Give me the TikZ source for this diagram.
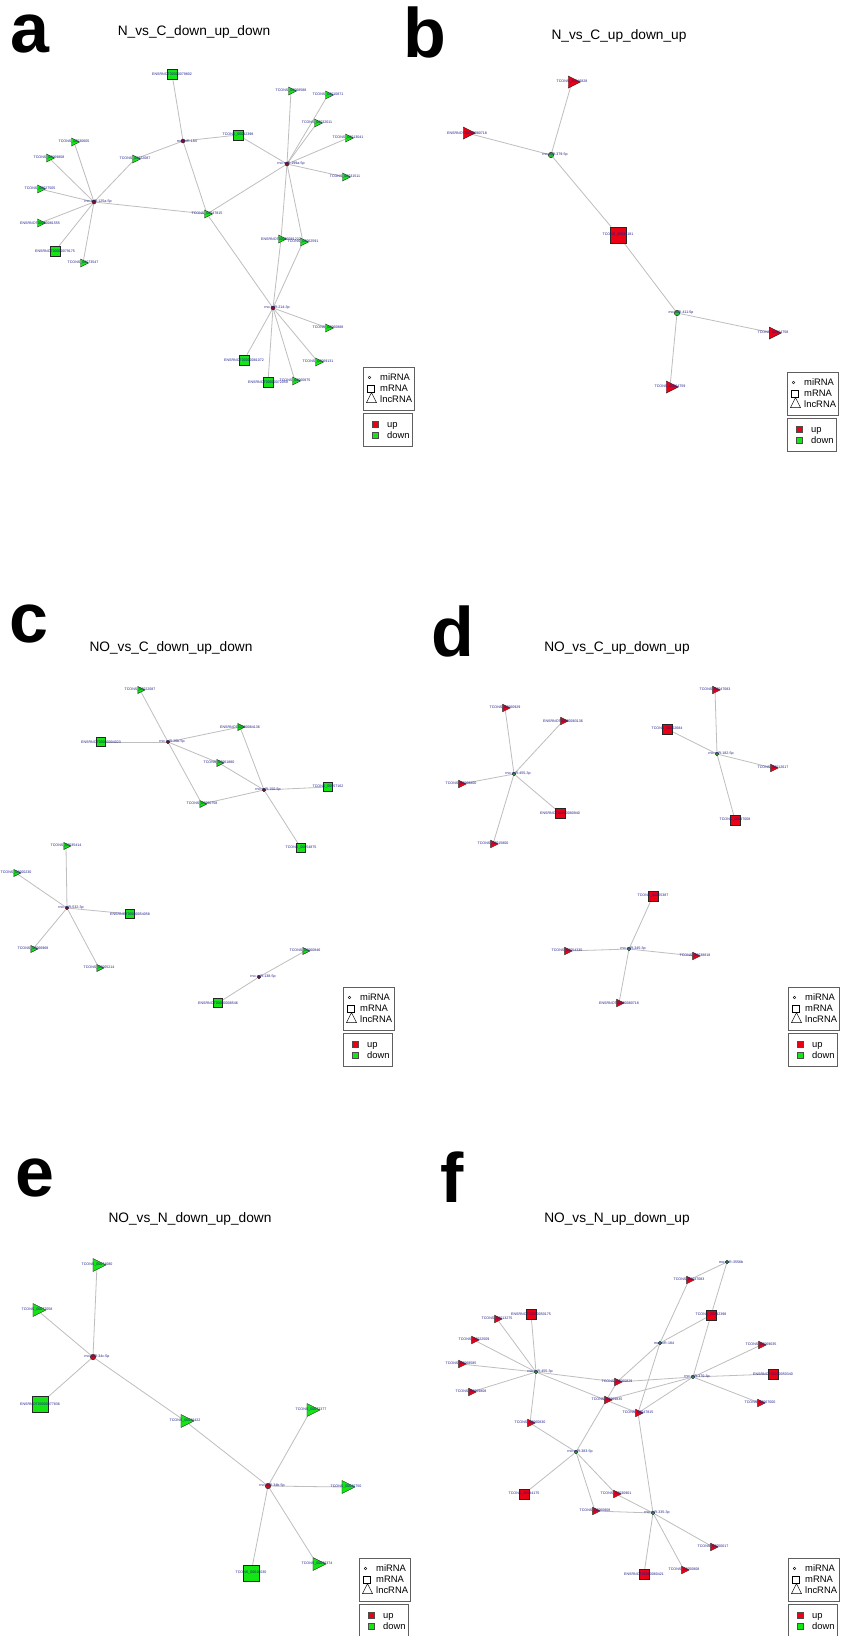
\documentclass[tikz,border=0pt]{standalone}
\usepackage{fontspec}
\setmainfont{Liberation Sans}
\usetikzlibrary{shapes.geometric,backgrounds}
\definecolor{upred}{RGB}{235,0,20}
\definecolor{dngreen}{RGB}{20,230,20}
\definecolor{mired}{RGB}{140,10,50}
\definecolor{mired2}{RGB}{205,10,20}
\definecolor{migreen}{RGB}{40,190,50}
\definecolor{edgegray}{RGB}{190,190,190}
\definecolor{lblblue}{RGB}{30,30,140}
\definecolor{boxgray}{RGB}{95,95,95}
\newcommand\lblfont{\fontsize{3.6}{3.6}\selectfont}
\newcommand\TRI[5]{\node[lncs=#4,fill=#3,label={[lbl]center:#5}] (#1) at (#2) {};}
\newcommand\SQR[5]{\node[mrs=#4,fill=#3,label={[lbl]center:#5}] (#1) at (#2) {};}
\newcommand\MIR[5]{\node[mis=#4,fill=#3,label={[lbl,xshift=4pt]center:#5}] (#1) at (#2) {};}
\newcommand\LEG[3]{%
 \node[legbox, minimum width=51, minimum height=43, anchor=north west] (#1bA) at (#2,#3) {};
 \node[legbox, minimum width=49, minimum height=33.5, anchor=north west] (#1bB) at (#2,#3+45.5) {};
 \node[legdot] (#1d) at (#2+6.5,#3+10.5) {};
 \node[legsq] (#1s) at (#2+7.5,#3+21.5) {};
 \node[legtri] (#1t) at (#2+8.5,#3+32.5) {};
 \node[legtxt] (#1xa) at (#2+17,#3+10.5) {miRNA};
 \node[legtxt] (#1xb) at (#2+17,#3+21.5) {mRNA};
 \node[legtxt] (#1xc) at (#2+17,#3+32.5) {lncRNA};
 \node[legfill, fill=upred] (#1u) at (#2+12,#3+57) {};
 \node[legfill, fill=dngreen] (#1g) at (#2+12,#3+68.5) {};
 \node[legtxt] (#1xd) at (#2+24,#3+57) {up};
 \node[legtxt] (#1xe) at (#2+24,#3+68.5) {down};
}
\begin{document}
\begin{tikzpicture}[x=1pt,y=-1pt,
 lncs/.style={isosceles triangle, isosceles triangle stretches, draw=black!85, line width=0.4pt, inner sep=0pt, minimum width=#1, minimum height=#1},
 mrs/.style={rectangle, draw=black!85, line width=0.5pt, inner sep=0pt, minimum size=#1},
 mis/.style={circle, draw=black!85, line width=0.4pt, inner sep=0pt, minimum size=#1},
 lbl/.style={font=\lblfont, text=lblblue, inner sep=0pt},
 edge/.style={draw=edgegray, line width=0.8pt},
 letter/.style={font=\fontsize{70}{70}\selectfont\bfseries, anchor=base west, inner sep=0pt, text height=50pt, text depth=0pt},
 ttl/.style={font=\fontsize{13.7}{14}\selectfont, anchor=base, inner sep=0pt},
 legbox/.style={draw=boxgray, line width=0.9pt, inner sep=0pt, rectangle},
 legdot/.style={circle, draw=black, line width=0.4pt, minimum size=2.6, inner sep=0pt},
 legsq/.style={rectangle, draw=black, line width=0.5pt, minimum size=7, inner sep=0pt},
 legtri/.style={isosceles triangle, isosceles triangle stretches, shape border rotate=90, draw=black, line width=0.5pt, minimum width=10, minimum height=10, inner sep=0pt},
 legfill/.style={rectangle, draw=black!70, line width=0.4pt, minimum size=6, inner sep=0pt},
 legtxt/.style={font=\fontsize{9.4}{10}\selectfont, anchor=west, inner sep=0pt, text height=6.8pt, text depth=0pt}
]
\useasboundingbox (0,0) rectangle (846,1636);

% panel letters
\node[letter] (La) at (10.5,52) {a};
\node[letter] (Lb) at (403,57) {b};
\node[letter] (Lc) at (9,642) {c};
\node[letter] (Ld) at (431,656) {d};
\node[letter] (Le) at (15,1196) {e};
\node[letter] (Lf) at (440,1202) {f};

% titles
\node[ttl] (Ta) at (194,35) {N\_vs\_C\_down\_up\_down};
\node[ttl] (Tb) at (619,39.5) {N\_vs\_C\_up\_down\_up};
\node[ttl] (Tc) at (171,651) {NO\_vs\_C\_down\_up\_down};
\node[ttl] (Td) at (617,651) {NO\_vs\_C\_up\_down\_up};
\node[ttl] (Te) at (190,1222) {NO\_vs\_N\_down\_up\_down};
\node[ttl] (Tf) at (617,1222) {NO\_vs\_N\_up\_down\_up};

% ---------- panel a ----------
\SQR{A1}{172,74}{dngreen}{10}{ENSRNOT00000079802}
\SQR{A2}{238,135}{dngreen}{10}{TCONS\_00042398}
\TRI{A3}{291,91}{dngreen}{8}{TCONS\_00068588}
\TRI{A4}{328,95}{dngreen}{8}{TCONS\_00010871}
\TRI{A5}{317,123}{dngreen}{8}{TCONS\_00032011}
\TRI{A6}{348,138}{dngreen}{8}{TCONS\_00013041}
\TRI{A7}{345,177}{dngreen}{8}{TCONS\_00031511}
\TRI{A8}{281,239}{dngreen}{8}{ENSRNOT00000081222}
\TRI{A9}{303,242}{dngreen}{8}{TCONS\_00062591}
\TRI{A10}{74,142}{dngreen}{8}{TCONS\_00030605}
\TRI{A11}{49,158}{dngreen}{8}{TCONS\_00069808}
\TRI{A12}{135,159}{dngreen}{8}{TCONS\_00022087}
\TRI{A13}{40,189}{dngreen}{8}{TCONS\_00027505}
\TRI{A14}{40,223}{dngreen}{8}{ENSRNOT00000081555}
\SQR{A15}{55,251}{dngreen}{10}{ENSRNOT00000079175}
\TRI{A16}{83,263}{dngreen}{8}{TCONS\_00073547}
\TRI{A17}{207,214}{dngreen}{8}{TCONS\_00047815}
\TRI{A18}{328,328}{dngreen}{8}{TCONS\_00060888}
\SQR{A19}{244,360}{dngreen}{10}{ENSRNOT00000081072}
\TRI{A20}{318,362}{dngreen}{8}{TCONS\_00069131}
\SQR{A21}{268,382}{dngreen}{10}{ENSRNOT00000072059}
\TRI{A22}{295,381}{dngreen}{8}{TCONS\_00060875}
\MIR{Ah1}{183,141}{mired}{4}{rno-miR-184}
\MIR{Ah2}{287,164}{mired}{4}{rno-miR-199a-5p}
\MIR{Ah3}{94,202}{mired}{4}{rno-miR-125a-5p}
\MIR{Ah4}{273,308}{mired}{4}{rno-miR-214-3p}
\LEG{lga}{363}{367}

% ---------- panel b ----------
\TRI{B1}{572,82}{upred}{12}{TCONS\_00046828}
\TRI{B2}{467,133}{upred}{12}{ENSRNOT00000080718}
\SQR{B3}{618,235}{upred}{16}{TCONS\_00044181}
\TRI{B4}{773,333}{upred}{12}{TCONS\_00064758}
\TRI{B5}{670,387}{upred}{12}{TCONS\_00064759}
\MIR{Bh1}{551,155}{migreen}{5.5}{rno-miR-379-5p}
\MIR{Bh2}{677,313}{migreen}{5.5}{rno-miR-411-5p}
\LEG{lgb}{787}{372}

% ---------- panel c ----------
\TRI{C1}{140,690}{dngreen}{7}{TCONS\_00022087}
\TRI{C2}{240,727}{dngreen}{7}{ENSRNOT00000084136}
\SQR{C3}{101,742}{dngreen}{9}{ENSRNOT00000004023}
\TRI{C4}{219,763}{dngreen}{7}{TCONS\_00061880}
\SQR{C5}{328,787}{dngreen}{9}{TCONS\_00057162}
\TRI{C6}{202,804}{dngreen}{7}{TCONS\_00060758}
\SQR{C7}{301,848}{dngreen}{9}{TCONS\_00054875}
\TRI{C8}{66,846}{dngreen}{7}{TCONS\_00035414}
\TRI{C9}{16,873}{dngreen}{7}{TCONS\_00000230}
\SQR{C10}{130,914}{dngreen}{9}{ENSRNOT00000054058}
\TRI{C11}{33,949}{dngreen}{7}{TCONS\_00066968}
\TRI{C12}{99,968}{dngreen}{7}{TCONS\_00005214}
\TRI{C13}{305,951}{dngreen}{7}{TCONS\_00060846}
\SQR{C14}{218,1003}{dngreen}{9}{ENSRNOT00000008546}
\MIR{Ch1}{168,742}{mired}{3.5}{rno-miR-26b-5p}
\MIR{Ch2}{264,790}{mired}{3.5}{rno-miR-150-5p}
\MIR{Ch3}{67,908}{mired}{3.5}{rno-miR-532-3p}
\MIR{Ch4}{259,977}{mired}{3.5}{rno-miR-138-5p}
\LEG{lgc}{343}{987}

% ---------- panel d ----------
\TRI{D1}{505,708}{upred}{7.5}{TCONS\_00060929}
\TRI{D2}{563,721}{upred}{7.5}{ENSRNOT00000083136}
\TRI{D3}{461,784}{upred}{7.5}{TCONS\_00068800}
\SQR{D4}{560,813}{upred}{10}{ENSRNOT00000080940}
\TRI{D5}{493,844}{upred}{7.5}{TCONS\_00015800}
\TRI{D6}{715,690}{upred}{7.5}{TCONS\_00047083}
\SQR{D7}{667,729}{upred}{10}{TCONS\_00052684}
\TRI{D8}{773,768}{upred}{7.5}{TCONS\_00012617}
\SQR{D9}{735,820}{upred}{10}{TCONS\_00047008}
\SQR{D10}{653,896}{upred}{10}{TCONS\_00055387}
\TRI{D11}{567,951}{upred}{7.5}{TCONS\_00054335}
\TRI{D12}{695,956}{upred}{7.5}{TCONS\_00038818}
\TRI{D13}{619,1003}{upred}{7.5}{ENSRNOT00000080718}
\MIR{Dh1}{514,774}{migreen}{3.5}{rno-miR-455-3p}
\MIR{Dh2}{717,754}{migreen}{3.5}{rno-miR-182-5p}
\MIR{Dh3}{629,949}{migreen}{3.5}{rno-miR-345-3p}
\LEG{lgd}{788}{987}

% ---------- panel e ----------
\TRI{E1}{97,1265}{dngreen}{13}{TCONS\_00074080}
\TRI{E2}{37,1310}{dngreen}{13}{TCONS\_00077058}
\SQR{E3}{40,1404}{dngreen}{16}{ENSRNOT00000077836}
\TRI{E4}{185,1421}{dngreen}{13}{TCONS\_00036422}
\TRI{E5}{311,1410}{dngreen}{13}{TCONS\_00072377}
\TRI{E6}{346,1487}{dngreen}{13}{TCONS\_00036750}
\SQR{E7}{251,1573}{dngreen}{16}{TCONS\_00016030}
\TRI{E8}{317,1564}{dngreen}{13}{TCONS\_00036374}
\MIR{Eh1}{93,1357}{mired2}{5.5}{rno-miR-34c-5p}
\MIR{Eh2}{268,1486}{mired2}{5.5}{rno-miR-34b-5p}
\LEG{lge}{359}{1558}

% ---------- panel f ----------
\TRI{F1}{689,1280}{upred}{7.5}{TCONS\_00047083}
\SQR{F2}{531,1314}{upred}{10}{ENSRNOT00000050175}
\TRI{F3}{497,1319}{upred}{7.5}{TCONS\_00013275}
\SQR{F4}{711,1315}{upred}{10}{TCONS\_00042398}
\TRI{F5}{474,1340}{upred}{7.5}{TCONS\_00022509}
\TRI{F6}{761,1345}{upred}{7.5}{TCONS\_00069035}
\TRI{F7}{461,1364}{upred}{7.5}{TCONS\_00068585}
\SQR{F8}{773,1374}{upred}{10}{ENSRNOT00000050340}
\TRI{F9}{617,1382}{upred}{7.5}{TCONS\_00060829}
\TRI{F10}{471,1392}{upred}{7.5}{TCONS\_00069808}
\TRI{F11}{607,1400}{upred}{7.5}{TCONS\_00069835}
\TRI{F12}{760,1403}{upred}{7.5}{TCONS\_00067000}
\TRI{F13}{638,1413}{upred}{7.5}{TCONS\_00047815}
\TRI{F14}{530,1423}{upred}{7.5}{TCONS\_00060830}
\SQR{F15}{524,1494}{upred}{10}{TCONS\_00044175}
\TRI{F16}{616,1494}{upred}{7.5}{TCONS\_00030901}
\TRI{F17}{595,1511}{upred}{7.5}{TCONS\_00060808}
\TRI{F18}{713,1547}{upred}{7.5}{TCONS\_00050017}
\TRI{F19}{684,1570}{upred}{7.5}{TCONS\_00050808}
\SQR{F20}{644,1574}{upred}{10}{ENSRNOT00000060421}
\MIR{Fh1}{727,1262}{migreen}{3.5}{rno-miR-3556b}
\MIR{Fh2}{660,1343}{migreen}{3.5}{rno-miR-184}
\MIR{Fh3}{536,1372}{migreen}{3.5}{rno-miR-455-3p}
\MIR{Fh4}{693,1377}{migreen}{3.5}{rno-miR-370-3p}
\MIR{Fh5}{576,1452}{migreen}{3.5}{rno-miR-383-5p}
\MIR{Fh6}{653,1513}{migreen}{3.5}{rno-miR-335-3p}
\LEG{lgf}{788}{1558}

\begin{pgfonlayer}{background}
\fill[white] (0,0) rectangle (846,1636);
\foreach \p/\q in {Ah1/A1,Ah1/A2,Ah1/A12,Ah1/A17,Ah2/A2,Ah2/A3,Ah2/A4,Ah2/A5,Ah2/A6,Ah2/A7,Ah2/A8,Ah2/A9,Ah2/A17,Ah3/A10,Ah3/A11,Ah3/A12,Ah3/A13,Ah3/A14,Ah3/A15,Ah3/A16,Ah3/A17,Ah4/A17,Ah4/A8,Ah4/A9,Ah4/A18,Ah4/A19,Ah4/A20,Ah4/A21,Ah4/A22,
 Bh1/B1,Bh1/B2,Bh1/B3,Bh2/B3,Bh2/B4,Bh2/B5,
 Ch1/C1,Ch1/C2,Ch1/C3,Ch1/C4,Ch1/C6,Ch2/C2,Ch2/C4,Ch2/C6,Ch2/C5,Ch2/C7,Ch3/C8,Ch3/C9,Ch3/C10,Ch3/C11,Ch3/C12,Ch4/C13,Ch4/C14,
 Dh1/D1,Dh1/D2,Dh1/D3,Dh1/D4,Dh1/D5,Dh2/D6,Dh2/D7,Dh2/D8,Dh2/D9,Dh3/D10,Dh3/D11,Dh3/D12,Dh3/D13,
 Eh1/E1,Eh1/E2,Eh1/E3,Eh1/E4,Eh2/E4,Eh2/E5,Eh2/E6,Eh2/E7,Eh2/E8,
 Fh1/F1,Fh1/F4,Fh2/F1,Fh2/F4,Fh2/F9,Fh2/F13,Fh3/F3,Fh3/F2,Fh3/F5,Fh3/F7,Fh3/F10,Fh3/F14,Fh3/F9,Fh3/F13,Fh4/F4,Fh4/F6,Fh4/F8,Fh4/F12,Fh4/F9,Fh4/F11,Fh4/F13,Fh5/F14,Fh5/F15,Fh5/F16,Fh5/F17,Fh5/F9,Fh6/F16,Fh6/F17,Fh6/F18,Fh6/F19,Fh6/F20,Fh6/F13}
 \draw[edge] (\p) -- (\q);
\end{pgfonlayer}
\end{tikzpicture}
\end{document}
